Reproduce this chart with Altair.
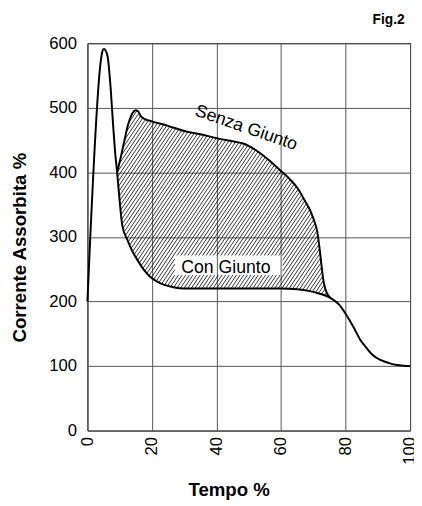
import altair as alt
import numpy as np
import pandas as pd

# ---- data ----
con_x = [0, 4.2, 4.6, 5.1, 5.7, 6.3, 7.2, 8.0, 8.6, 9.2, 10.0, 10.8, 12.5, 14.0, 15.5, 17.5,
         19.5, 21.5, 23.6, 26.6, 30, 40, 50, 60, 65, 69, 72, 75.3, 78, 80.4, 82.5, 84.4,
         86.5, 88.4, 91, 93.5, 96, 98, 100]
con_y = [200, 575, 587, 591, 588, 578, 530, 470, 430, 400, 355, 318, 294, 277, 264, 249,
         238, 231, 226, 222, 220, 220, 220, 220, 219, 216, 212, 205.5, 195, 178, 160, 142,
         128, 117, 109, 104.5, 101.5, 100.5, 100]

senza_x = [9.2, 10.4, 11.5, 12.5, 13.5, 14.3, 15.0, 15.8, 16.5, 18, 20, 25, 30, 35, 40, 45,
           48, 52, 56, 60, 63, 65.2, 67.5, 69.2, 70.4, 71.2, 72.0, 72.5, 73.0, 73.8, 75.3]
senza_y = [400, 425, 450, 472, 487, 494, 496, 494, 487, 482, 479, 472, 464, 459, 453, 448,
           445, 435, 420, 402, 388, 375, 355, 339, 323, 309, 280, 258, 237, 218, 205.5]

x_ticks = [0, 20, 40, 60, 80, 100]
y_ticks = [0, 100, 200, 300, 400, 500, 600]

label_senza = "Senza Giunto"
label_senza_pos = (49.2, 468.5)
label_con = "Con Giunto"
label_con_pos = (42.9, 244.4)
label_con_box = (27.1, 60.5, 241, 271)   # x0, x1, y0, y1 kept free of hatching
label_fig = "Fig.2"
label_fig_pos = (98.3, 629)               # top-right corner annotation

FONT = "Liberation Sans"
W, H = 329, 395

# ---- hatch lines derived from the two curves ----
k = 1 / np.tan(np.radians(56))
x0, x1 = senza_x[0], senza_x[-1]
px0, px1 = x0 / 100 * W, x1 / 100 * W
step = 3.7
c_vals = np.arange(px0 - k * H, px1 + step, step)
py = np.linspace(0, H, 2400)
bx0, bx1, by0, by1 = label_con_box
segs = []
for c in c_vals:
    px = c + k * py
    xd = px / W * 100
    yd = py / H * 600
    up = np.interp(xd, senza_x, senza_y)
    lo = np.interp(xd, con_x, con_y)
    inside = (xd >= x0) & (xd <= x1) & (yd <= up) & (yd >= lo)
    inside &= ~((xd >= bx0) & (xd <= bx1) & (yd >= by0) & (yd <= by1))
    idx = np.flatnonzero(np.diff(np.concatenate([[0], inside.astype(int), [0]])))
    for s, e in zip(idx[::2], idx[1::2]):
        e -= 1
        if e > s:
            segs.append((xd[s], yd[s], xd[e], yd[e]))
hatch_df = pd.DataFrame(segs, columns=["x", "y", "x2", "y2"])

con_df = pd.DataFrame({"x": con_x, "y": con_y})
senza_df = pd.DataFrame({"x": senza_x, "y": senza_y})
senza_lab_df = pd.DataFrame({"x": [label_senza_pos[0]], "y": [label_senza_pos[1]], "t": [label_senza]})
con_lab_df = pd.DataFrame({"x": [label_con_pos[0]], "y": [label_con_pos[1]], "t": [label_con]})
fig_lab_df = pd.DataFrame({"x": [label_fig_pos[0]], "y": [label_fig_pos[1]], "t": [label_fig]})

xs = alt.Scale(domain=[0, 100], nice=False, zero=False)
ys = alt.Scale(domain=[0, 600], nice=False)

hatch = alt.Chart(hatch_df).mark_rule(color="black", strokeWidth=0.8).encode(
    x2="x2:Q", y2="y2:Q")
con_line = alt.Chart(con_df).mark_line(strokeWidth=2, interpolate="monotone").encode(
    color=alt.value("black"))
senza_line = alt.Chart(senza_df).mark_line(strokeWidth=2, interpolate="monotone").encode(
    color=alt.value("black"))
senza_txt = alt.Chart(senza_lab_df).mark_text(
    font=FONT, fontSize=18, angle=19, align="center", baseline="middle", color="black").encode(
    text="t:N")
con_txt = alt.Chart(con_lab_df).mark_text(
    font=FONT, fontSize=18, align="center", baseline="alphabetic", color="black").encode(
    text="t:N")
fig_txt = alt.Chart(fig_lab_df).mark_text(
    font=FONT, fontSize=14, fontWeight="bold", align="right", baseline="alphabetic",
    color="black").encode(text="t:N")

chart = alt.layer(hatch, con_line, senza_line, senza_txt, con_txt, fig_txt).encode(
    x=alt.X("x:Q", scale=xs, axis=alt.Axis(
        values=x_ticks, title="Tempo %", labelAngle=270, labelAlign="right",
        labelBaseline="middle", labelPadding=6, labelFlush=False,
        titleX=144, titleY=66, titleBaseline="alphabetic")),
    y=alt.Y("y:Q", scale=ys, axis=alt.Axis(
        values=y_ticks, title="Corrente Assorbita %", labelPadding=11,
        labelFlush=False, titleX=-69, titleY=208, titleBaseline="middle",
        titleAngle=270)),
).properties(
    width=W, height=H,
    autosize=alt.AutoSizeParams(type="none"),
    padding={"left": 81, "top": 31, "right": 4, "bottom": 71},
).configure_view(stroke="black", strokeWidth=1).configure_axis(
    labelFont=FONT, labelFontSize=17, labelColor="black", ticks=False, domain=False,
    gridColor="#555555", gridWidth=1, gridOpacity=1,
    titleFont=FONT, titleFontSize=19, titleFontWeight="bold", titleColor="black",
)

chart.save("out.html", embed_options={"renderer": "svg", "actions": False})
